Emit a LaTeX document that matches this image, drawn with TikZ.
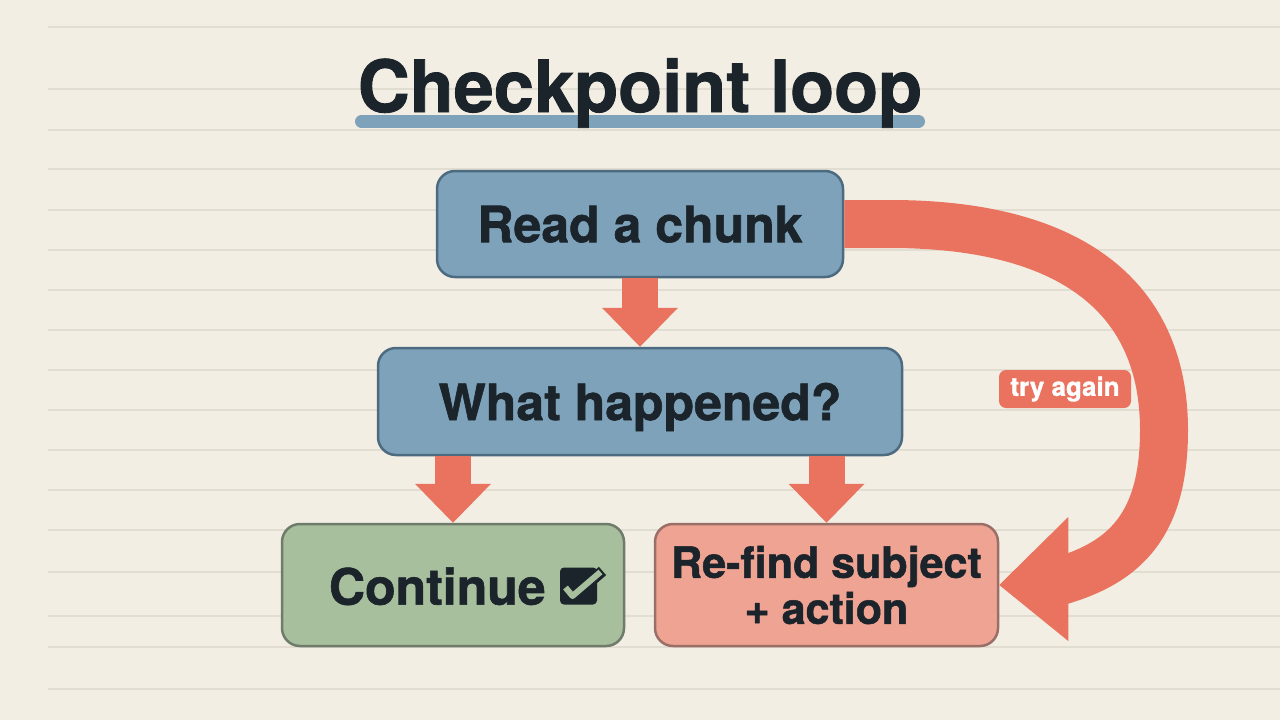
\documentclass[tikz,border=0pt]{standalone}
\usepackage{fontspec}
\setmainfont{TeX Gyre Heros}[BoldFeatures={FakeBold=1.2}]
\usetikzlibrary{positioning,calc,arrows.meta}
\definecolor{paper}{HTML}{F2EEE3}
\definecolor{paperline}{HTML}{E2DDD1}
\definecolor{ink}{HTML}{1B242B}
\definecolor{steel}{HTML}{7DA2BA}
\definecolor{steeldark}{HTML}{4D6B80}
\definecolor{sage}{HTML}{A8BF9D}
\definecolor{sagedark}{HTML}{6F7B6B}
\definecolor{salmon}{HTML}{EFA393}
\definecolor{salmondark}{HTML}{9A6F68}
\definecolor{coral}{HTML}{E9735F}
\tikzset{
  box/.style={draw, line width=2.5pt, rounded corners=18pt, inner sep=0pt,
    text=ink, font=\bfseries\fontsize{50}{56}\selectfont},
  bluebox/.style={box, fill=steel, draw=steeldark},
  greenbox/.style={box, fill=sage, draw=sagedark},
  redbox/.style={box, fill=salmon, draw=salmondark, align=center,
    font=\bfseries\fontsize{43}{46}\selectfont},
  boxtext/.style={inner sep=0pt, text=ink, text depth=0pt,
    font=\bfseries\fontsize{50}{56}\selectfont},
  tickbox/.style={fill=ink, rounded corners=4pt, minimum size=37pt, inner sep=0pt},
  tagbox/.style={fill=coral, rounded corners=7pt, minimum width=132pt,
    minimum height=38pt, inner sep=0pt, text=white,
    font=\bfseries\fontsize{26}{30}\selectfont},
  downarrow/.style={coral, line width=36pt,
    -{Triangle[length=39pt 0 1, width=76pt 0 1, line width=0pt 0 0]}},
  loopband/.style={coral, line width=48pt},
}
\begin{document}
\begin{tikzpicture}[x=1pt,y=-1pt]
    % paper
    \fill[paper] (0,0) rectangle (1280,720);
    \useasboundingbox (0,0) rectangle (1280,720);
    \foreach \y in {27,89,130,169,210,250,290,330,370,410,450,490,530,572,616,647,689}
        \draw[paperline, line width=1.5pt] (48,\y) -- (1280,\y);
    % title
    \draw[steel, line width=13pt, line cap=round] (361.5,121.5) -- (918.5,121.5);
    \node[anchor=base, text=ink, font=\bfseries\fontsize{72}{80}\selectfont] (title) at (640,112) {Checkpoint loop};
    % boxes
    \node[bluebox, minimum width=406pt, minimum height=106pt, text depth=0pt] (read) at (640,224) {Read a chunk};
    \node[bluebox, minimum width=524pt, minimum height=107pt, text depth=0pt] (what) at (640,401.5) {What happened?};
    \node[greenbox, minimum width=342pt, minimum height=122pt] (continue) at (453,585) {};
    \node[redbox, minimum width=343pt, minimum height=122pt] (refind) at (826.5,585) {Re-find subject\\+ action};
    \node[boxtext, anchor=west] (conttext) at ($(continue.west)+(48,1)$) {Continue};
    \node[tickbox, right=14pt of conttext] (tick) {};
    \draw[ink, line width=11pt, line join=round] ($(tick.center)+(-14,1)$) -- ($(tick.center)+(-6,11)$) -- ($(tick.center)+(24,-15)$);
    \draw[sage, line width=6pt, line join=round] ($(tick.center)+(-13,1.5)$) -- ($(tick.center)+(-6,10)$) -- ($(tick.center)+(22,-14)$);
    % arrows
    \draw[downarrow] (read) -- (what);
    \draw[downarrow] (continue.north |- what.south) -- (continue.north);
    \draw[downarrow] (refind.north |- what.south) -- (refind.north);
    % loop back
    \coordinate (headback) at ($(refind.east)+(69,-6)$);
    \draw[loopband] (read.east) -- (890,224)
        .. controls (1075,224) and (1164,300) .. (1164,430)
        .. controls (1164,525) and (1125,562) .. ($(headback)+(-8,2)$);
    \fill[coral] ($(headback)+(0,-62)$) -- (refind.east) -- ($(headback)+(0,62)$) -- cycle;
    \node[tagbox] (tag) at (1065,389) {try again};
\end{tikzpicture}
\end{document}
